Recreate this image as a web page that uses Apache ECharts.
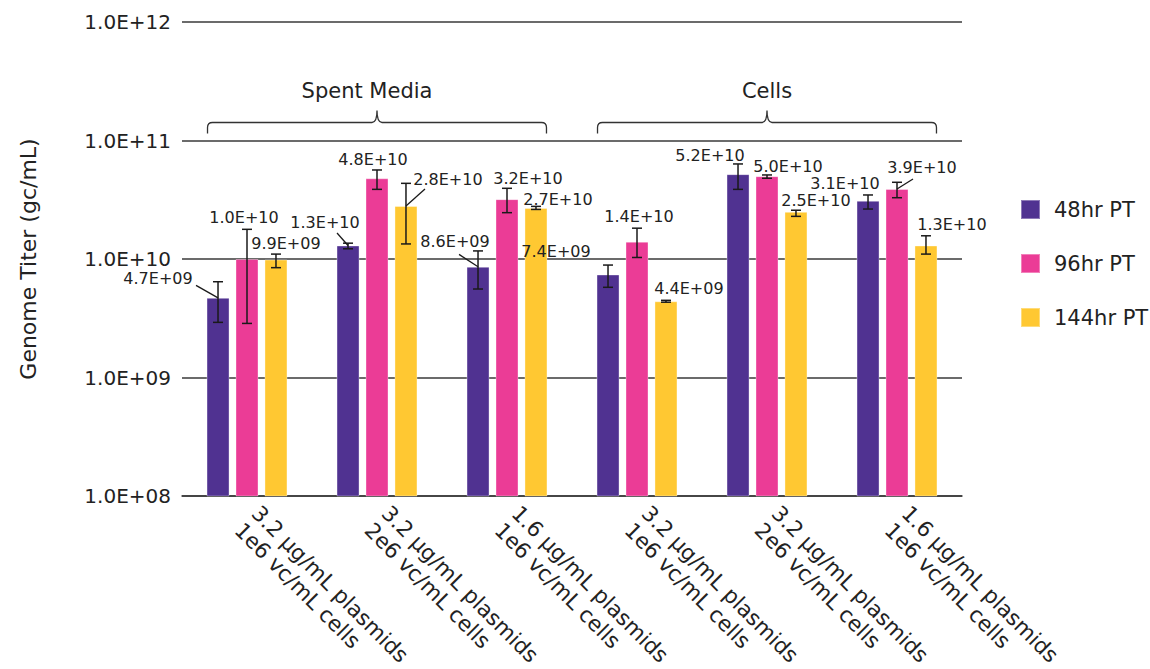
<!DOCTYPE html>
<html>
<head>
<meta charset="utf-8">
<script src="https://cdn.jsdelivr.net/npm/echarts@6/dist/echarts.min.js"></script>
<style>
  html, body { margin: 0; padding: 0; background: #fff; }
  #chart { width: 1150px; height: 669px; }
</style>
</head>
<body>
<div id="chart"></div>
<script>
// ---------------- data ----------------
const categories = [
  '3.2 µg/mL plasmids\n1e6 vc/mL cells',
  '3.2 µg/mL plasmids\n2e6 vc/mL cells',
  '1.6 µg/mL plasmids\n1e6 vc/mL cells',
  '3.2 µg/mL plasmids\n1e6 vc/mL cells',
  '3.2 µg/mL plasmids\n2e6 vc/mL cells',
  '1.6 µg/mL plasmids\n1e6 vc/mL cells'
];
const seriesNames = ['48hr PT', '96hr PT', '144hr PT'];
const values48  = [4.7e9, 1.3e10, 8.6e9, 7.4e9, 5.2e10, 3.1e10];
const values96  = [1.0e10, 4.8e10, 3.2e10, 1.4e10, 5.0e10, 3.9e10];
const values144 = [9.9e9, 2.8e10, 2.7e10, 4.4e9, 2.5e10, 1.3e10];
// error bar bounds (low / high)
const low48   = [2.92e9, 1.22e10, 5.58e9, 5.77e9, 3.87e10, 2.64e10];
const high48  = [6.43e9, 1.36e10, 1.17e10, 8.89e9, 6.34e10, 3.47e10];
const low96   = [2.86e9, 3.87e10, 2.46e10, 1.03e10, 4.80e10, 3.29e10];
const high96  = [1.78e10, 5.64e10, 3.95e10, 1.82e10, 5.12e10, 4.44e10];
const low144  = [8.45e9, 1.34e10, 2.62e10, 4.32e9, 2.29e10, 1.10e10];
const high144 = [1.10e10, 4.35e10, 2.78e10, 4.48e9, 2.58e10, 1.57e10];
// group brackets: [first category index, last category index]
const groupNames = ['Spent Media', 'Cells'];
const groupStart = [0, 3];
const groupEnd   = [2, 5];
const yTicks = [1e8, 1e9, 1e10, 1e11, 1e12];

// ---------------- styles ----------------
const FONT = 'Verdana, "DejaVu Sans", sans-serif';
const COLORS = ['#503291', '#EB3C96', '#FFC832'];
const TEXT = '#222222';
const GRID = '#3a3a3a';
const BAR_W = 23;
const BAR_GAP = 0.26;
// label offsets (px) from bar top centre to label centre
const labelOffsets = [
  [[-60,-19.5],[-23,-22.5],[-23,-25],[-52,-22.5],[-28,-19],[-23,-17]],
  [[-3,-42],[-4,-19],[21,-21],[2,-25],[21,-9.5],[25,-21]],
  [[10,-16],[42,-27],[22,-8],[23,-13],[20,-11],[26,-20.5]]
];
// leader line start (px) relative to label centre, or null
const leaderStarts = [
  [[38,7],[12,10],[4,12.6],null,null,null],
  [null,null,null,null,null,[-9,11]],
  [null,[-23,10],null,null,null,null]
];
const groupTextShift = [-10, 0];

const valuesAll = [values48, values96, values144];
const lowAll = [low48, low96, low144];
const highAll = [high48, high96, high144];

function fmtExp(v) {
  let e = Math.floor(Math.log10(v) + 1e-9);
  let m = v / Math.pow(10, e);
  let ms = m.toFixed(1);
  if (ms === '10.0') { ms = '1.0'; e += 1; }
  const sign = e < 0 ? '-' : '+';
  return ms + 'E' + sign + String(Math.abs(e)).padStart(2, '0');
}

const chart = echarts.init(document.getElementById('chart'), null, { renderer: 'svg' });

const series = [];
seriesNames.forEach((name, s) => {
  series.push({
    name: name,
    type: 'bar',
    data: valuesAll[s],
    barWidth: BAR_W,
    barGap: (BAR_GAP * 100) + '%',
    itemStyle: { color: COLORS[s], borderColor: 'rgba(255,255,255,0.35)', borderWidth: 1 },
    label: { show: false },
    z: 2
  });
});
seriesNames.forEach((name, s) => {
  const data = valuesAll[s].map((v, i) => [i, v, lowAll[s][i], highAll[s][i]]);
  series.push({
    type: 'custom',
    name: name + ' err',
    data: data,
    encode: { x: 0, y: [1, 2, 3] },
    z: 5,
    silent: true,
    renderItem: function (params, api) {
      const i = api.value(0);
      const v = api.value(1);
      const lo = api.value(2);
      const hi = api.value(3);
      const shift = (s - 1) * (BAR_W * (1 + BAR_GAP));
      const p = api.coord([i, v]);
      const pl = api.coord([i, lo]);
      const ph = api.coord([i, hi]);
      const x = p[0] + shift;
      const cap = 5;
      const lineStyle = { stroke: '#1a1a1a', lineWidth: 1.5 };
      const children = [
        { type: 'line', shape: { x1: x, y1: pl[1], x2: x, y2: ph[1] }, style: lineStyle },
        { type: 'line', shape: { x1: x - cap, y1: pl[1], x2: x + cap, y2: pl[1] }, style: lineStyle },
        { type: 'line', shape: { x1: x - cap, y1: ph[1], x2: x + cap, y2: ph[1] }, style: lineStyle }
      ];
      const off = labelOffsets[s][params.dataIndex];
      const lx = x + off[0];
      const ly = p[1] + off[1];
      children.push({
        type: 'text',
        style: {
          x: lx, y: ly, text: fmtExp(v), fill: TEXT,
          fontSize: 16, fontFamily: FONT, align: 'center', verticalAlign: 'middle'
        }
      });
      const ld = leaderStarts[s][params.dataIndex];
      if (ld) {
        children.push({
          type: 'line',
          shape: { x1: lx + ld[0], y1: ly + ld[1], x2: x, y2: p[1] },
          style: { stroke: '#1a1a1a', lineWidth: 1.3 }
        });
      }
      return { type: 'group', children: children };
    }
  });
});

// group brackets
series.push({
  type: 'custom',
  name: 'groups',
  data: groupNames.map((g, k) => [groupStart[k], groupEnd[k], 1e11]),
  encode: { x: [0, 1], y: 2 },
  z: 5,
  silent: true,
  renderItem: function (params, api) {
    const a = api.coord([api.value(0), api.value(2)]);
    const b = api.coord([api.value(1), api.value(2)]);
    const half = (3 * BAR_W + 2 * BAR_W * BAR_GAP) / 2;
    const x0 = a[0] - half + 1, x1 = b[0] + half - 1;
    const ref = a[1];
    const yb = ref - 7, yt = ref - 18, tip = ref - 30;
    const xc = (x0 + x1) / 2;
    const r = 5;
    const d = 'M' + x0 + ',' + yb + ' L' + x0 + ',' + (yt + r) +
      ' Q' + x0 + ',' + yt + ' ' + (x0 + r) + ',' + yt +
      ' L' + (xc - r) + ',' + yt +
      ' Q' + xc + ',' + yt + ' ' + xc + ',' + tip +
      ' Q' + xc + ',' + yt + ' ' + (xc + r) + ',' + yt +
      ' L' + (x1 - r) + ',' + yt +
      ' Q' + x1 + ',' + yt + ' ' + x1 + ',' + (yt + r) +
      ' L' + x1 + ',' + yb;
    return {
      type: 'group',
      children: [
        { type: 'path', shape: { pathData: d }, style: { stroke: '#333', lineWidth: 1.3, fill: null } },
        {
          type: 'text',
          style: {
            x: xc + groupTextShift[params.dataIndex], y: ref - 50, text: groupNames[params.dataIndex], fill: TEXT,
            fontSize: 21, fontFamily: FONT, align: 'center', verticalAlign: 'middle'
          }
        }
      ]
    };
  }
});

chart.setOption({
  animation: false,
  backgroundColor: '#ffffff',
  textStyle: { fontFamily: FONT },
  grid: { left: 182, right: 188, top: 22, bottom: 173, containLabel: false, outerBoundsMode: 'none' },
  legend: {
    data: seriesNames,
    orient: 'vertical',
    left: 1020,
    top: 199,
    padding: 0,
    itemWidth: 19,
    itemHeight: 19,
    itemGap: 33,
    icon: 'rect',
    textStyle: { fontSize: 21, color: TEXT, fontFamily: FONT, padding: [0, 0, 0, 9] }
  },
  xAxis: {
    type: 'category',
    data: categories,
    axisLine: { show: true, lineStyle: { color: GRID, width: 1.5 } },
    axisTick: { show: false },
    axisLabel: {
      interval: 0, rotate: -45, fontSize: 21.5, lineHeight: 24, color: TEXT,
      fontFamily: FONT, margin: 22
    }
  },
  yAxis: {
    type: 'log',
    logBase: 10,
    min: yTicks[0],
    max: yTicks[yTicks.length - 1],
    name: 'Genome Titer (gc/mL)',
    nameLocation: 'middle',
    nameGap: 143,
    nameRotate: 90,
    nameTextStyle: { fontSize: 22, color: TEXT, fontFamily: FONT },
    axisLine: { show: false },
    axisTick: { show: false },
    splitLine: { show: true, lineStyle: { color: GRID, width: 1.5 } },
    axisLabel: {
      fontSize: 20, color: TEXT, fontFamily: FONT, margin: 11,
      formatter: function (v) { return fmtExp(v); }
    }
  },
  series: series
});
</script>
</body>
</html>
